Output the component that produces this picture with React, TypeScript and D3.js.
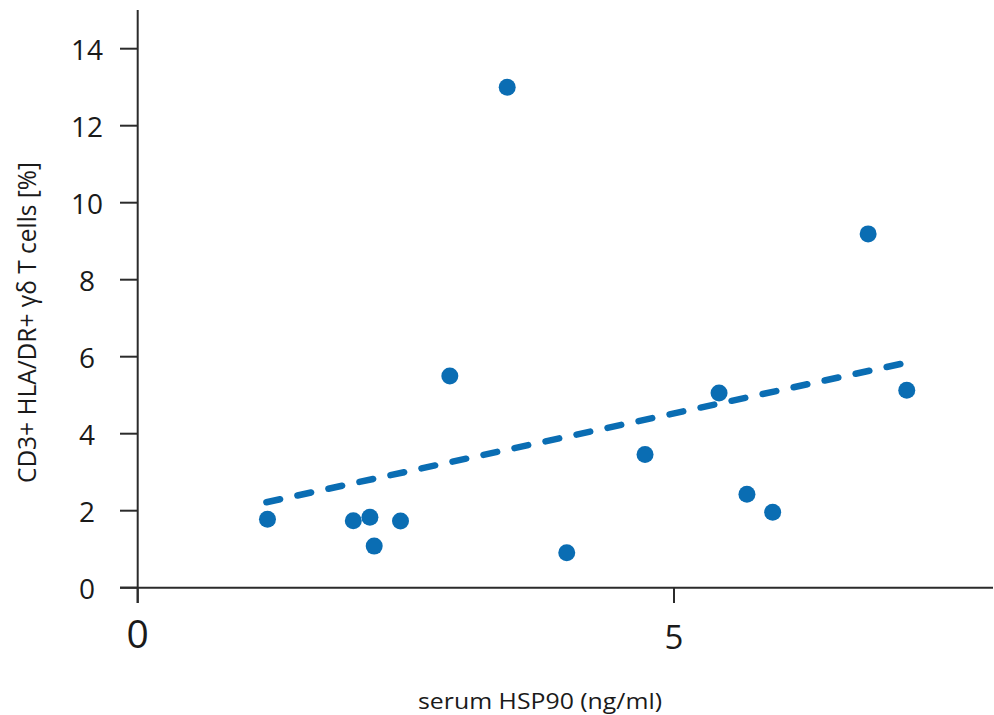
import React from "react";
import * as d3 from "d3";

const hspX = [1.21, 2.01, 2.165, 2.205, 2.45, 2.91, 3.445, 4.0, 4.73, 5.42, 5.68, 5.92, 6.81, 7.17];
const cellsY = [1.78, 1.74, 1.83, 1.08, 1.73, 5.5, 13.0, 0.91, 3.46, 5.06, 2.43, 1.96, 9.19, 5.13];
const trendX = [1.2, 7.11];
const trendY = [2.22, 5.81];
const yTicks = [0, 2, 4, 6, 8, 10, 12, 14];
const xTicks = [0, 5];

const W = 994;
const H = 715;
const BLUE = "#0a6db3";
const AXIS = "#2b2b2b";
const FONT = "'Open Sans', sans-serif";

export default function App() {
  const x = d3.scaleLinear().domain([0, 5]).range([137.7, 674]);
  const y = d3.scaleLinear().domain([0, 14]).range([587.7, 48.7]);
  const line = d3
    .line<number>()
    .x((d, i) => x(trendX[i]))
    .y((d) => y(d));

  return (
    <svg
      width={W}
      height={H}
      style={{ position: "absolute", left: 0, top: 0, background: "#fff" }}
    >
      {/* axes */}
      <line x1={x(0)} x2={x(0)} y1={10} y2={603} stroke={AXIS} strokeWidth={2} />
      <line x1={120} x2={993} y1={y(0)} y2={y(0)} stroke={AXIS} strokeWidth={2} />
      {yTicks.map((t) => (
        <g key={"y" + t}>
          <line x1={120} x2={x(0)} y1={y(t)} y2={y(t)} stroke={AXIS} strokeWidth={2} />
          <text
            x={87}
            y={y(t)}
            textAnchor="middle"
            dominantBaseline="central"
            fontFamily={FONT}
            fontSize={28}
            fill="#1a1a1a"
          >
            {t}
          </text>
        </g>
      ))}
      {xTicks.map((t) => (
        <g key={"x" + t}>
          <line x1={x(t)} x2={x(t)} y1={y(0)} y2={603} stroke={AXIS} strokeWidth={2} />
          <text
            x={x(t)}
            y={t === 0 ? 648 : 649}
            textAnchor="middle"
            fontFamily={FONT}
            fontSize={t === 0 ? 39 : 33}
            fill="#1a1a1a"
          >
            {t}
          </text>
        </g>
      ))}
      <text
        x={540}
        y={709}
        textAnchor="middle"
        fontFamily={FONT}
        fontSize={21.5}
        textLength={244}
        lengthAdjust="spacingAndGlyphs"
        fill="#1a1a1a"
      >
        serum HSP90 (ng/ml)
      </text>
      <text
        transform={`translate(36,322.5) rotate(-90)`}
        textAnchor="middle"
        fontFamily={FONT}
        fontSize={25}
        textLength={321}
        lengthAdjust="spacingAndGlyphs"
        fill="#1a1a1a"
      >
        CD3+ HLA/DR+ γδ T cells [%]
      </text>

      {/* trend line */}
      <path
        d={line(trendY) || ""}
        fill="none"
        stroke={BLUE}
        strokeWidth={6.5}
        strokeDasharray="14 17.74"
        strokeLinecap="round"
      />

      {/* points */}
      {hspX.map((v, i) => (
        <circle key={i} cx={x(v)} cy={y(cellsY[i])} r={8.5} fill={BLUE} />
      ))}
    </svg>
  );
}
